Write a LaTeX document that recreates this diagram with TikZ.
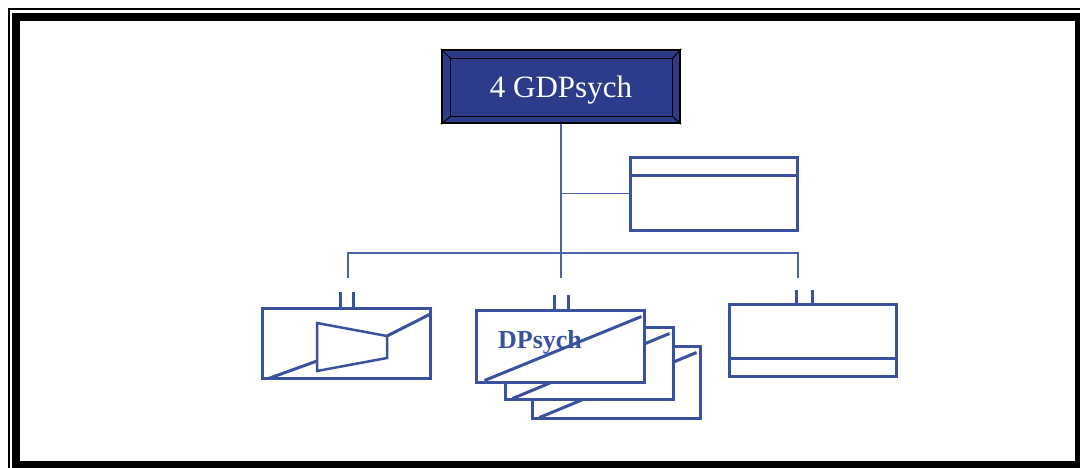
\documentclass[tikz,border=0pt]{standalone}
\usepackage{fontspec}
\setmainfont{Liberation Serif}
\usetikzlibrary{calc}
\definecolor{boxblue}{HTML}{3A51A0}
\definecolor{lineblue}{HTML}{4C63AB}
\definecolor{topfill}{HTML}{2C3C8A}
\tikzset{
  bluebox/.style={draw=boxblue,line width=3pt,fill=white,rectangle,inner sep=0pt},
  conn/.style={draw=lineblue,line width=1.5pt},
  tick/.style={draw=boxblue,line width=3pt},
  inner/.style={draw=boxblue,line width=3pt},
}
\begin{document}
\begin{tikzpicture}[x=1pt,y=-1pt]
\useasboundingbox (0,0) rectangle (1080,467);
\fill[white] (0,0) rectangle (1080,467);
% frame
\draw[black,line width=1.5pt] (9,475) -- (9,9) -- (1090,9);
\draw[black,line width=8pt] (16,17) rectangle (1079,465);

% top node
\node[draw=black,line width=2.5pt,fill=topfill,minimum width=238pt,minimum height=73pt,inner sep=0pt] (top) at (561,86.5) {};
\draw[black,line width=1.2pt] ($(top.north west)+(10,10)$) rectangle ($(top.south east)+(-9,-8)$);
\draw[black,line width=1pt] (top.north west) -- ($(top.north west)+(10,10)$)
  (top.north east) -- ($(top.north east)+(-9,10)$)
  (top.south west) -- ($(top.south west)+(10,-8)$)
  (top.south east) -- ($(top.south east)+(-9,-8)$);
\node[anchor=base,text=white,font=\fontsize{31}{31}\selectfont,inner sep=0pt] (toptext) at (561,97) {4 GDPsych};

% upper right box
\node[bluebox,minimum width=167pt,minimum height=73pt] (rbox) at (713.5,193.5) {};
\draw[inner] ($(rbox.north west)+(0,20)$) -- ($(rbox.north east)+(0,20)$);

% bottom boxes
\node[bluebox,minimum width=168pt,minimum height=70pt] (lbox) at (346,343) {};
\node[bluebox,minimum width=168pt,minimum height=72pt] (mb3) at (616,382) {};
\draw[inner] ($(mb3.south west)+(9,-2)$) -- ($(mb3.north east)+(-5,8)$);
\node[bluebox,minimum width=168pt,minimum height=72pt] (mb2) at (589,363) {};
\draw[inner] ($(mb2.south west)+(9,-2)$) -- ($(mb2.north east)+(-5,8)$);
\node[bluebox,minimum width=168pt,minimum height=72pt] (mbox) at (560,346) {};
\draw[inner] ($(mbox.south west)+(10,-3)$) -- ($(mbox.north east)+(-4,8)$);
\node[anchor=base,text=boxblue,font=\bfseries\fontsize{26}{26}\selectfont,inner sep=0pt] (dpsych) at (540,348) {DPsych};
\node[bluebox,minimum width=167pt,minimum height=72pt] (bbox) at (812.5,340) {};
\draw[inner] ($(bbox.south west)+(0,-19)$) -- ($(bbox.south east)+(0,-19)$);

% left box contents
\draw[inner,line width=2.5pt,line join=miter] (317,323) -- (387,336) -- (387,358) -- (317,371) -- cycle;
\draw[inner] ($(lbox.south west)+(8,-1)$) -- (317,361);
\draw[inner] (387,336) -- ($(lbox.north east)+(-2,8)$);

% connectors
\coordinate (bus) at (top.south |- 0,253);
\coordinate (busR) at (798,253);
\coordinate (dropL) at (348,278);
\coordinate (dropM) at (top.south |- 0,278);
\coordinate (dropR) at (798,278);
\draw[conn] (top.south) |- (rbox.west);
\draw[conn] (top.south) -- (dropM);
\draw[conn] (dropL) -- (348,253) -- (busR) -- (dropR);

% ticks
\draw[tick] ($(lbox.north)+(-6,0)$) -- ++(0,-15);
\draw[tick] ($(lbox.north)+(7,0)$) -- ++(0,-15);
\draw[tick] ($(mbox.north)+(-6,0)$) -- ++(0,-14);
\draw[tick] ($(mbox.north)+(8,0)$) -- ++(0,-14);
\draw[tick] ($(bbox.north)+(-16,0)$) -- ++(0,-13);
\draw[tick] ($(bbox.north)+(0,0)$) -- ++(0,-13);
\end{tikzpicture}
\end{document}
